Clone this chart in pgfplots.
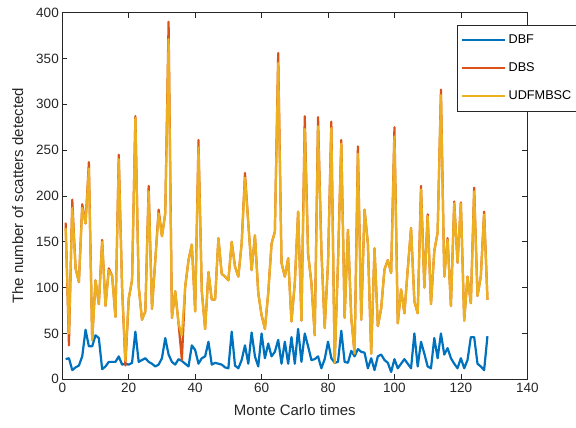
\documentclass[border=0pt]{standalone}
\usepackage{pgfplots}
\usepackage{pgfplotstable}
\pgfplotsset{compat=1.18}
\usepackage{fontspec}
\setmainfont{Liberation Sans}
\definecolor{mblue}{RGB}{0,114,189}
\definecolor{mred}{RGB}{217,83,25}
\definecolor{myel}{RGB}{237,177,32}
\definecolor{axgray}{RGB}{38,38,38}
\pgfplotstableread{
k dbs udf dbf
1 171 165 22
2 37 50 23
3 196 187 10
4 121 121 13
5 106 106 15
6 191 187 25
7 170 170 54
8 237 230 36
9 43 43 36
10 108 108 48
11 82 82 45
12 152 150 11
13 80 80 14
14 121 119 19
15 113 113 19
16 68 68 19
17 245 240 25
18 100 100 16
19 15 20 17
20 88 88 16
21 108 108 18
22 287 285 52
23 101 101 19
24 65 65 21
25 74 74 23
26 211 205 19
27 77 77 17
28 130 130 14
29 185 181 16
30 156 156 23
31 181 181 45
32 390 371 27
33 67 67 19
34 96 96 16
35 61 61 22
36 21 48 20
37 101 101 17
38 130 130 14
39 147 147 37
40 74 74 32
41 261 253 17
42 96 96 23
43 55 55 25
44 117 117 41
45 87 87 16
46 87 87 18
47 154 154 17
48 115 115 16
49 112 112 13
50 108 108 12
51 150 150 52
52 123 123 15
53 112 112 12
54 148 148 21
55 225 220 37
56 170 170 17
57 119 119 51
58 157 157 25
59 94 94 14
60 70 70 50
61 55 55 23
62 94 94 39
63 148 148 25
64 161 161 30
65 356 345 43
66 127 127 17
67 112 112 41
68 132 132 17
69 63 63 46
70 105 105 17
71 183 183 55
72 64 64 19
73 287 273 50
74 137 137 36
75 105 105 21
76 48 48 22
77 286 276 25
78 141 141 12
79 56 56 22
80 127 127 41
81 281 274 23
82 18 18 18
83 127 127 19
84 261 257 53
85 67 67 19
86 163 163 18
87 67 67 31
88 28 28 25
89 254 246 33
90 65 65 30
91 185 185 29
92 148 148 12
93 28 28 23
94 143 143 10
95 58 58 25
96 77 77 27
97 120 120 21
98 130 130 18
99 116 116 8
100 275 265 22
101 61 61 12
102 98 98 17
103 72 72 22
104 120 120 17
105 165 165 12
106 85 85 50
107 72 72 14
108 211 207 41
109 100 100 28
110 180 178 14
111 82 82 12
112 140 140 45
113 160 160 23
114 316 310 50
115 112 112 27
116 154 152 34
117 80 80 23
118 194 192 17
119 127 127 12
120 193 192 23
121 64 64 12
122 112 112 21
123 83 83 46
124 209 205 46
125 91 91 17
126 112 112 14
127 183 180 10
128 87 87 47
}\datatable
\begin{document}
\begin{tikzpicture}
\useasboundingbox (0,0) rectangle (576pt,428pt);
\begin{axis}[
  at={(62.3pt,48.7pt)}, anchor=south west,
  scale only axis, width=465pt, height=366.7pt,
  xmin=0, xmax=140, ymin=0, ymax=400,
  xtick={0,20,...,140}, ytick={0,50,...,400},
  tick pos=both, tick align=inside,
  major tick length=5pt,
  axis line style={axgray, line width=0.6pt},
  every tick/.style={axgray, line width=0.6pt},
  ticklabel style={font=\fontsize{13.5}{16}\selectfont, text=axgray},
  /pgf/number format/assume math mode=true,
  xlabel={Monte Carlo times},
  ylabel={The number of scatters detected},
  label style={font=\fontsize{15}{18}\selectfont, text=axgray},
  xlabel style={yshift=-5pt},
  ylabel style={yshift=6pt},
  legend style={at={(axis description cs:0.849,0.967)}, anchor=north west,
    draw=axgray, line width=0.6pt, fill=white,
    font=\fontsize{12.7}{15}\selectfont, row sep=13.5pt, inner xsep=4pt, inner ysep=8pt},
  legend cell align=left,
  legend image code/.code={\draw[#1, line width=2.2pt] (0pt,0pt) -- (43pt,0pt);},
]
\addplot[mblue, line width=2.2pt, line join=round] table[x=k, y=dbf] {\datatable};
\addlegendentry{DBF}
\addplot[mred, line width=2.2pt, line join=round] table[x=k, y=dbs] {\datatable};
\addlegendentry{DBS}
\addplot[myel, line width=2.2pt, line join=round] table[x=k, y=udf] {\datatable};
\addlegendentry{UDFMBSC}
\end{axis}
\end{tikzpicture}
\end{document}
